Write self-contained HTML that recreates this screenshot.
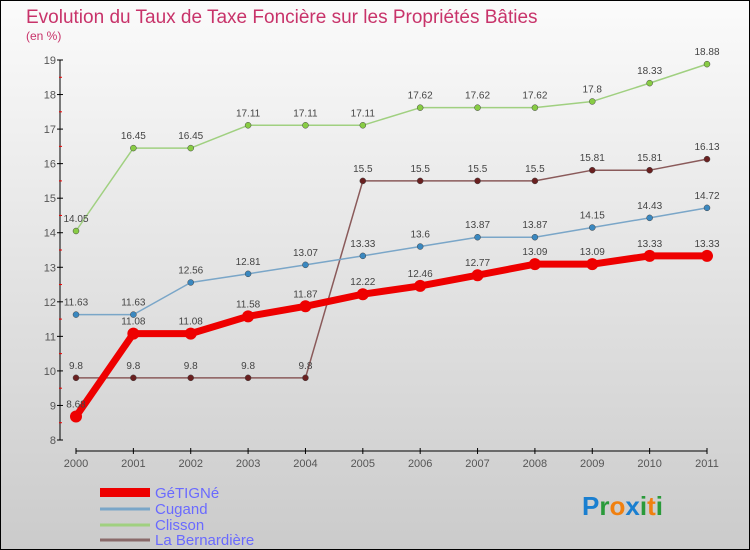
<!DOCTYPE html>
<html><head><meta charset="utf-8"><style>
body{margin:0}
#wrap{width:750px;height:550px;position:relative;overflow:hidden;font-family:"Liberation Sans",sans-serif}
</style></head><body>
<div id="wrap">
<svg id="svg" width="750" height="550" xmlns="http://www.w3.org/2000/svg">
<defs><linearGradient id="bg" x1="0" y1="0" x2="0" y2="1"><stop offset="0" stop-color="#fbfbfb"/><stop offset="1" stop-color="#cbcbcb"/></linearGradient></defs>
<rect x="0.5" y="0.5" width="749" height="549" fill="url(#bg)" stroke="#000"/>
<text x="26" y="23" font-size="19" fill="#c8336a">Evolution du Taux de Taxe Foncière sur les Propriétés Bâties</text>
<text x="26" y="40" font-size="12" fill="#c8336a">(en %)</text>
<g id="axes"></g><g id="series"></g>
<g>
<rect x="100" y="488" width="50" height="9" fill="#e00"/>
<text x="155" y="498" font-size="15" fill="#6a6aff">GéTIGNé</text>
<line x1="100" y1="509" x2="150" y2="509" stroke="#7aa6c8" stroke-width="3"/>
<text x="155" y="514" font-size="15" fill="#6a6aff">Cugand</text>
<line x1="100" y1="525" x2="150" y2="525" stroke="#a0d080" stroke-width="3"/>
<text x="155" y="530" font-size="15" fill="#6a6aff">Clisson</text>
<line x1="100" y1="540" x2="150" y2="540" stroke="#8a6a6a" stroke-width="3"/>
<text x="155" y="545" font-size="15" fill="#6a6aff">La Bernardière</text>
</g>
<g font-size="26" font-weight="bold">
<text x="582" y="515"><tspan fill="#1a7fd0">P</tspan><tspan fill="#2a9a3a">r</tspan><tspan fill="#f08010">o</tspan><tspan fill="#1a7fd0">x</tspan><tspan fill="#2a9a3a">i</tspan><tspan fill="#f08010">t</tspan><tspan fill="#2a9a3a">i</tspan></text>
</g>
</svg>
</div>
<script>
const years=[2000,2001,2002,2003,2004,2005,2006,2007,2008,2009,2010,2011];
const yTicks=[8,9,10,11,12,13,14,15,16,17,18,19];
const getigne=[8.68,11.08,11.08,11.58,11.87,12.22,12.46,12.77,13.09,13.09,13.33,13.33];
const cugand=[11.63,11.63,12.56,12.81,13.07,13.33,13.6,13.87,13.87,14.15,14.43,14.72];
const clisson=[14.05,16.45,16.45,17.11,17.11,17.11,17.62,17.62,17.62,17.8,18.33,18.88];
const bernardiere=[9.8,9.8,9.8,9.8,9.8,15.5,15.5,15.5,15.5,15.81,15.81,16.13];
const NS="http://www.w3.org/2000/svg";
const X=i=>76+i*(707-76)/(years.length-1);
const Y=v=>440-(v-8)*(380/11);
function mk(tag,attrs,parent){const e=document.createElementNS(NS,tag);for(const k in attrs)e.setAttribute(k,attrs[k]);parent.appendChild(e);return e;}
const axes=document.getElementById('axes'),ser=document.getElementById('series');
let ya=mk('line',{x1:60,y1:60,x2:60,y2:440,stroke:'#000','stroke-width':1},axes);


yTicks.forEach(t=>{
 mk('line',{x1:57,x2:63,y1:Y(t),y2:Y(t),stroke:'#000'},axes);
 if(t<19) mk('line',{x1:59,x2:62,y1:Y(t+0.5),y2:Y(t+0.5),stroke:'#e00'},axes);
 const tx=mk('text',{x:56,y:Y(t)+4,'font-size':11,fill:'#555','text-anchor':'end'},axes);tx.textContent=t;
 
 
});
let xa=mk('line',{x1:76,y1:451,x2:707,y2:451,stroke:'#000','stroke-width':1},axes);


years.forEach((yr,i)=>{
 mk('line',{x1:X(i),x2:X(i),y1:448,y2:454,stroke:'#000'},axes);
 const tx=mk('text',{x:X(i),y:467,'font-size':11,fill:'#555','text-anchor':'middle'},axes);tx.textContent=yr;
 
 
});
function series(vals,color,dot,w,r,name){
 const g=mk('g',{},ser);
 
 
 mk('polyline',{points:vals.map((v,i)=>X(i)+','+Y(v)).join(' '),fill:'none',stroke:color,'stroke-width':w,'stroke-linejoin':'round'},g);
 vals.forEach((v,i)=>{
  const c=mk('circle',{cx:X(i),cy:Y(v),r:r,fill:dot,stroke:w>3?'none':'#444','stroke-width':0.5},g);
  
  
  const t=mk('text',{x:X(i),y:Y(v)-9,'font-size':10,fill:'#444','text-anchor':'middle'},g);t.textContent=v;
  
  
 });
}
series(clisson,'#a0d080','#88cc44',1.5,3,'clisson');
series(bernardiere,'#8a5a5a','#6a2020',1.5,3,'la-bernardiere');
series(cugand,'#7aa6c8','#3a88c0',1.5,3,'cugand');
series(getigne,'#ee0000','#ee0000',7,6,'getigne');
</script>
</body></html>
